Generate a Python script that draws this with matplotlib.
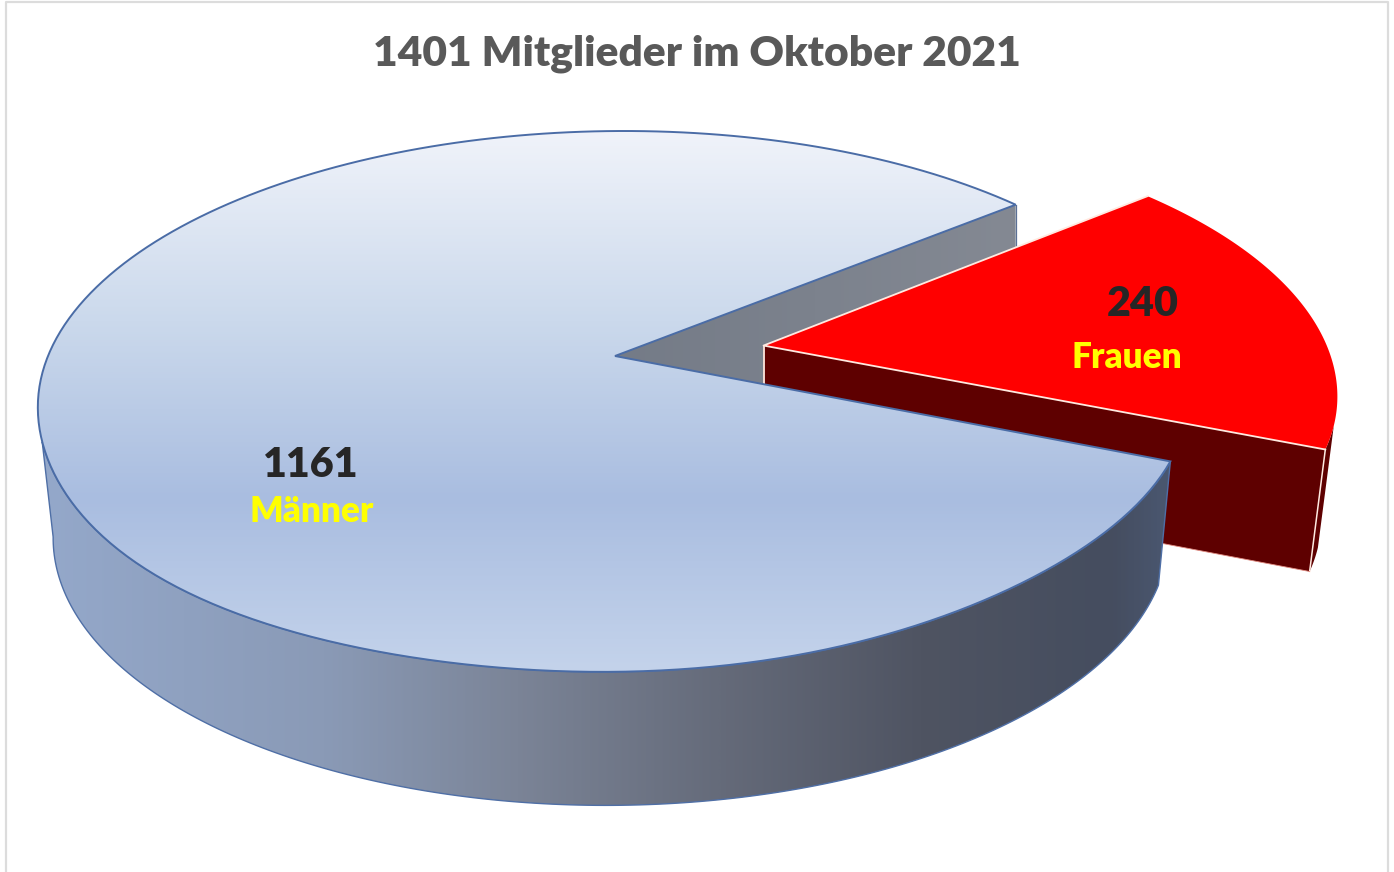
import numpy as np
import matplotlib
matplotlib.use('Agg')
import matplotlib.pyplot as plt
import matplotlib.colors as mplc
from matplotlib.patches import Polygon

title = 'Mitglieder im Oktober 2021'
labels = ['Männer', 'Frauen']
values = [1161, 240]

top_stops = [(0.0, '#f0f3fa'), (0.35, '#cbd9ec'), (0.68, '#a9bde0'), (1.0, '#c4d3eb')]
side_stops = [(0.0, '#94a8ca'), (0.25, '#8a9ab6'), (0.42, '#7b8497'), (0.6, '#656b7a'),
              (0.78, '#4f5462'), (0.95, '#454d5f'), (1.0, '#4a5770')]
cut_stops = [(0.0, '#747b87'), (1.0, '#848993')]

plt.rcParams['font.family'] = ['Lato', 'DejaVu Sans']
fig = plt.figure(figsize=(13.94, 8.72), dpi=100)
ax = fig.add_axes([0, 0, 1, 1])

P = 0.168
START = 39.6
BOOM = (0.263, 0.04)   # how far the Frauen slice is pulled out


def top_xy(u, v):
    w = 1 + P * v
    y = 356 - 262.8 * v / w
    # the original rim leans a little to the left near the front
    lean = 11 * 6.75 * v**4 * np.clip(1 - v**2, 0, None) * (v < 0)
    return 615 + 567 * u / w - 0.04 * (y - 356) - lean, y


def bottom_xy(u, v):
    w = 1 + P * v
    y = 490 - 262.4 * v / w
    return 612 + 550 * u / w - 0.02 * (y - 490), y


def arc(a0, a1, func=top_xy, off=(0, 0), n=200):
    t = np.radians(np.linspace(a0, a1, n))
    x, y = func(np.cos(t) + off[0], np.sin(t) + off[1])
    return np.column_stack([x, y])


def fill_grad(pts, stops, vertical, z):
    cmap = mplc.LinearSegmentedColormap.from_list('', stops)
    ramp = np.linspace(0, 1, 400)
    ramp = ramp[:, None] if vertical else ramp[None, :]
    x0, y0 = pts.min(axis=0)
    x1, y1 = pts.max(axis=0)
    im = ax.imshow(ramp, cmap=cmap, extent=[x0, x1, y1, y0], aspect='auto', zorder=z, origin='upper')
    clip = Polygon(pts, closed=True, transform=ax.transData, fc='none', ec='none')
    ax.add_patch(clip)
    im.set_clip_path(clip)


def red_down(p):
    # lower edge of the pulled out slice
    p = np.atleast_2d(p)
    return np.column_stack([765 + (p[:, 0] - 765) * 0.972, p[:, 1] + 122])


sweep = [360 * v / sum(values) for v in values]
men_a0 = START
men_a1 = START + sweep[0]
wom_a0 = men_a1 - 360
wom_a1 = START

apex = np.array(top_xy(0, 0))
men_rim = arc(men_a0, men_a1)
men_top = np.vstack([apex, men_rim])

# inner wall of the big slice, seen through the gap
start_pt = men_rim[0]
cut = np.array([apex, start_pt, start_pt + [0, 125], apex + [0, 125]])
fill_grad(cut, cut_stops, False, 2)
ax.plot(*np.array([start_pt, start_pt + [0, 125]]).T, color='#5b7096', lw=0.9, zorder=2.1)

# Frauen slice
wom_apex = np.array(top_xy(*BOOM))
wom_rim = arc(wom_a0, wom_a1, off=BOOM)
end_pt = wom_rim[0]
sliver = arc(wom_a0, wom_a0 + 5, off=BOOM)
ax.add_patch(Polygon(np.vstack([sliver, red_down(sliver)[::-1]]), fc='#5e0000', ec='none', zorder=3))
wall = np.vstack([wom_apex, end_pt, red_down(end_pt), red_down(wom_apex)])
ax.add_patch(Polygon(wall, fc='#5e0000', ec='none', zorder=3.1))
ax.add_patch(Polygon(np.vstack([wom_apex, wom_rim]), fc='#ff0000', ec='none', zorder=3.2))
ax.plot(*np.array([end_pt, red_down(end_pt)[0]]).T, color='#ffe9e0', lw=1.1, zorder=3.3)
ax.plot(*np.array([red_down(wom_apex)[0], red_down(end_pt)[0]]).T, color='#e08a80', lw=0.6, zorder=3.3)
ax.plot(*np.array([wom_rim[-1], wom_apex, end_pt]).T, color='#ffe9e0', lw=1.3, zorder=3.4)
ax.plot(*np.array([wom_apex, wom_apex + [0, 122]]).T, color='#ffe9e0', lw=1.3, zorder=3.3)

# outer side of the big slice
side_top = arc(men_a1 - 360, 198 - 360)
side_bot = arc(-20, -170, func=bottom_xy)
side = np.vstack([side_top, side_bot[::-1]])
fill_grad(side, side_stops, False, 4)
ax.add_patch(Polygon(side, fc='none', ec='#4f6fa6', lw=1.0, zorder=4.1))

# top of the big slice
fill_grad(men_top, top_stops, True, 5)
ax.add_patch(Polygon(men_top, fc='none', ec='#4a6ca6', lw=1.4, zorder=5.1))

# light chart frame, open at the bottom
ax.plot([6, 6, 1388, 1388], [872, 2.5, 2.5, 872], color='#dcdcdc', lw=1.6, zorder=1)

ax.text(697, 53.5, f'{sum(values)} {title}', fontsize=30.6, fontweight='heavy', color='#595959',
        ha='center', va='center', zorder=6)
ax.text(311, 465, str(values[0]), fontsize=29.7, fontweight='heavy', color='#262626', ha='center', va='center', zorder=6)
ax.text(312, 511, labels[0], fontsize=25.3, fontweight='heavy', color='#ffff00', ha='center', va='center', zorder=6)
ax.text(1143, 304, str(values[1]), fontsize=29.7, fontweight='heavy', color='#262626', ha='center', va='center', zorder=6)
ax.text(1127, 357, labels[1], fontsize=25.3, fontweight='heavy', color='#ffff00', ha='center', va='center', zorder=6)

ax.set_xlim(0, 1394)
ax.set_ylim(872, 0)
ax.axis('off')
fig.savefig('out.png', dpi=100, facecolor='white')
